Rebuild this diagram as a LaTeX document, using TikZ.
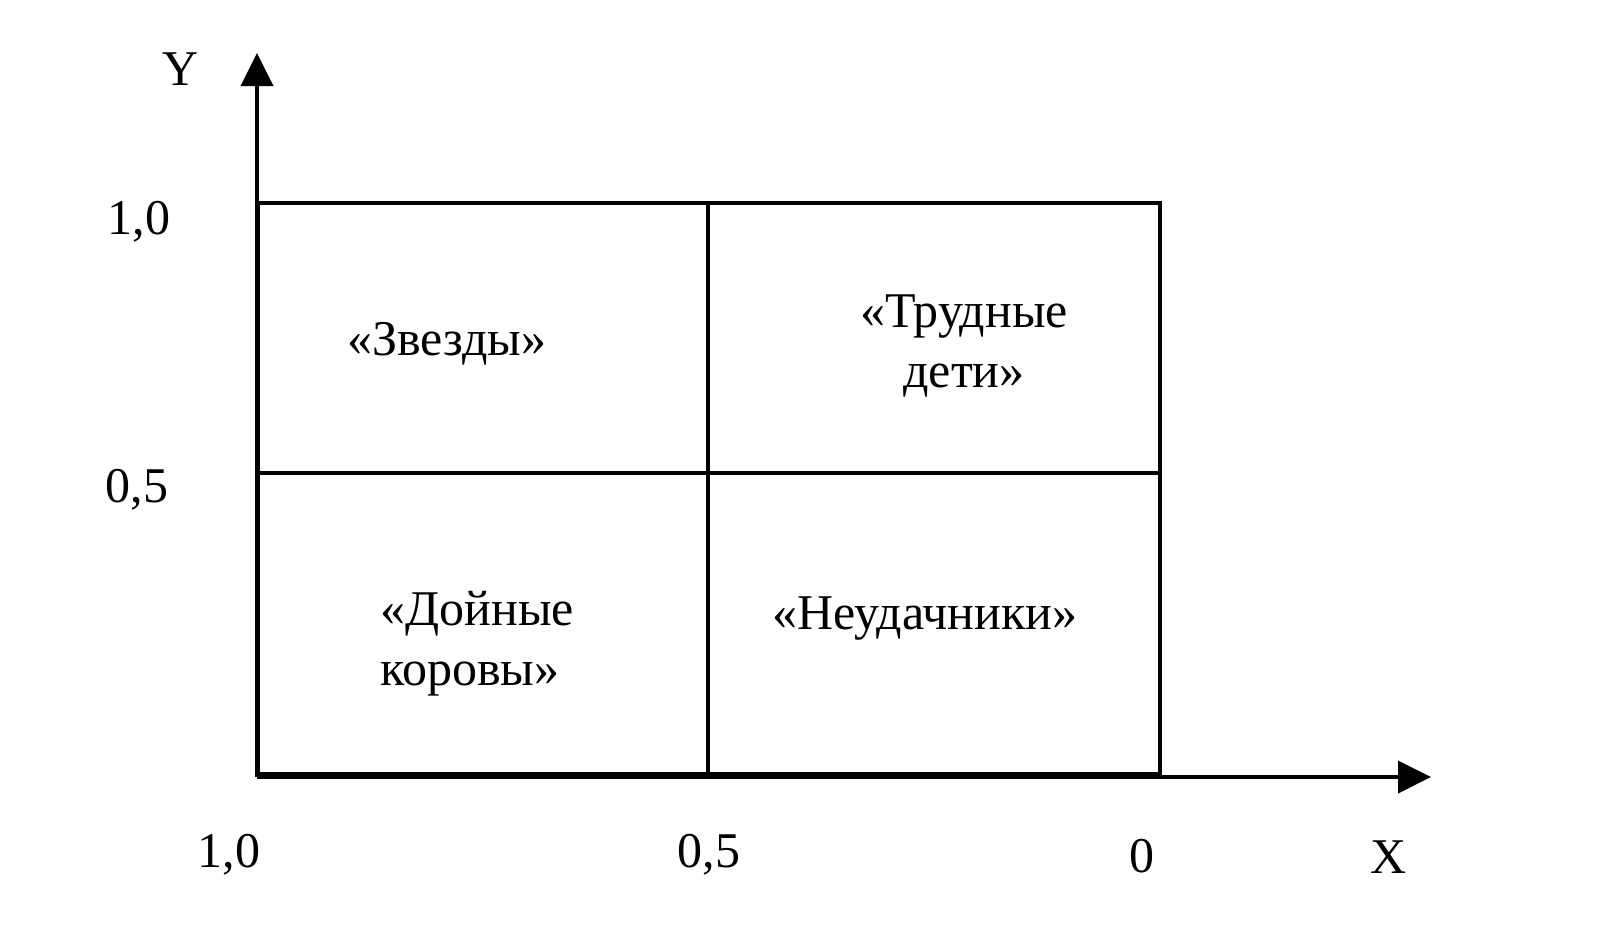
\documentclass[tikz,border=0pt]{standalone}
\usepackage{fontspec}
\setmainfont{Liberation Serif}
\usetikzlibrary{arrows.meta}

\begin{document}
\begin{tikzpicture}[x=0.5pt,y=-0.5pt,
    lbl/.style={font=\fontsize{25}{30}\selectfont,inner sep=0pt},
    axis/.style={line width=1.9pt,-{Triangle[length=16.5pt,width=16pt]}},
    cell/.style={line width=1.7pt}]
\useasboundingbox (0,0) rectangle (1617,928);
    \coordinate (o) at (257,777);
    \coordinate (ytip) at (257,53);
    \coordinate (xtip) at (1431,777);
    \draw [cell] (258,203) rectangle (1160,774);
    \draw [cell] (708,203) -- (708,774);
    \draw [cell] (258,473) -- (1160,473);
    \draw [axis] (o) -- (ytip);
    \draw [axis] (o) -- (xtip);

    \node [lbl] (ylab) at (181,69) {Y};
    \node [lbl] (xlab) at (1389,857) {X};
    \node [lbl] (yone) at (139,222) {1,0};
    \node [lbl] (yhalf) at (137,490) {0,5};
    \node [lbl] (xone) at (229,855) {1,0};
    \node [lbl] (xhalf) at (709,855) {0,5};
    \node [lbl] (xzero) at (1142,856) {0};

    \node [lbl] (stars) at (447,344) {«Звезды»};
    \node [lbl,align=center] (problem) at (964,346) {«Трудные\\дети»};
    \node [lbl,align=left,anchor=west] (cows) at (380,644) {«Дойные\\коровы»};
    \node [lbl] (dogs) at (925,619) {«Неудачники»};
\end{tikzpicture}
\end{document}
